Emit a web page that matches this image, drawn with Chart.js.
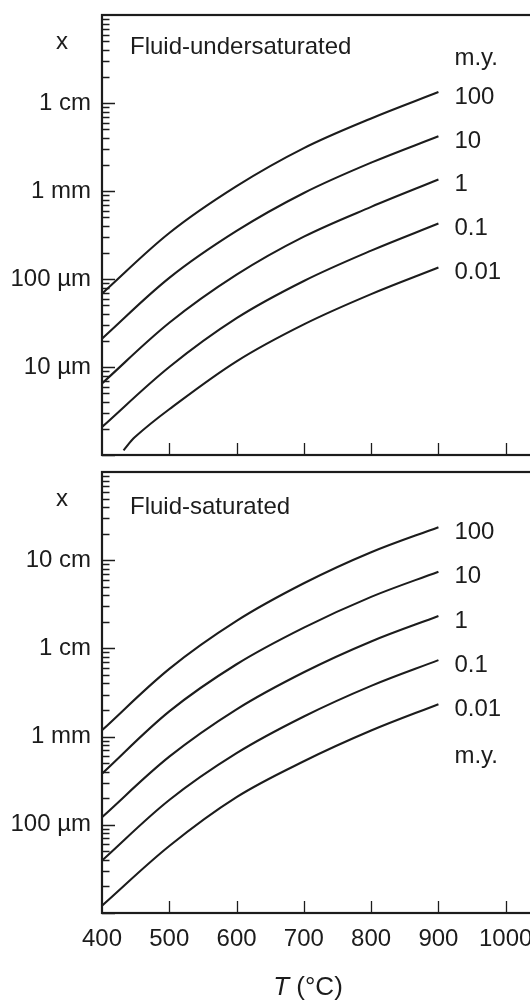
<!DOCTYPE html>
<html>
<head>
<meta charset="utf-8">
<script src="https://cdn.jsdelivr.net/npm/chart.js@4.4.0/dist/chart.umd.min.js"></script>
<style>
  html, body { margin: 0; padding: 0; background: #fff; }
  #wrap { width: 530px; height: 1000px; overflow: hidden; }
  canvas { display: block; }
</style>
</head>
<body>
<div id="wrap">
  <canvas id="under" width="620" height="462"></canvas>
  <canvas id="sat" width="620" height="538"></canvas>
</div>
<script>
// transport distance x (metres) against temperature, one curve per duration in m.y.
var temps = [400, 500, 600, 700, 800, 900];
var tempsLow = [432, 449, 500, 600, 700, 800, 900]; // 0.01 m.y. curve enters the upper panel late
var durations = ["100", "10", "1", "0.1", "0.01"];

// fluid-undersaturated
var under100 = [6.82e-5, 3.33e-4, 1.135e-3, 3.07e-3, 6.67e-3, 1.33e-2];
var under10 = [2.1e-5, 1.03e-4, 3.52e-4, 9.5e-4, 2.1e-3, 4.19e-3];
var under1 = [6.5e-6, 3.18e-5, 1.12e-4, 3.03e-4, 6.6e-4, 1.35e-3];
var under01 = [2.08e-6, 1.0e-5, 3.59e-5, 9.5e-5, 2.1e-4, 4.27e-4];
var under001 = [1.13e-6, 1.6e-6, 3.31e-6, 1.16e-5, 3.05e-5, 6.73e-5, 1.35e-4];

// fluid-saturated
var sat100 = [1.18e-3, 5.86e-3, 2.05e-2, 5.47e-2, 0.123, 0.237];
var sat10 = [3.8e-4, 1.93e-3, 6.61e-3, 1.72e-2, 3.84e-2, 7.41e-2];
var sat1 = [1.22e-4, 5.92e-4, 2.04e-3, 5.37e-3, 1.2e-2, 2.33e-2];
var sat01 = [3.93e-5, 1.91e-4, 6.49e-4, 1.69e-3, 3.76e-3, 7.36e-3];
var sat001 = [1.21e-5, 5.75e-5, 2.06e-4, 5.25e-4, 1.17e-3, 2.33e-3];

// labelled decades on the x axis
var underTicks = [1e-5, 1e-4, 1e-3, 1e-2];
var underTickLabels = ["10 \u00b5m", "100 \u00b5m", "1 mm", "1 cm"];
var satTicks = [1e-4, 1e-3, 1e-2, 1e-1];
var satTickLabels = ["100 \u00b5m", "1 mm", "1 cm", "10 cm"];

var FONT = "'Liberation Sans', Arial, Helvetica, sans-serif";
var INK = "#1c1c1c";
var FS = 24;

function points(xs, ys) {
  return xs.map(function (t, i) { return { x: t, y: ys[i] }; });
}

// frame, inward ticks and all the in-panel text
var panelDecor = {
  id: "panelDecor",
  afterDatasetsDraw: function (chart, args, o) {
    var ctx = chart.ctx, a = chart.chartArea;
    var xs = chart.scales.x, ys = chart.scales.y;
    ctx.save();
    ctx.strokeStyle = INK;
    ctx.lineWidth = 2.2;
    ctx.strokeRect(a.left, a.top, a.right - a.left, a.bottom - a.top);

    ctx.lineWidth = 1.3;
    ctx.beginPath();
    var d0 = Math.round(Math.log10(ys.min)), d1 = Math.round(Math.log10(ys.max));
    for (var d = d0; d < d1; d++) {
      for (var m = 1; m <= 9; m++) {
        var v = m * Math.pow(10, d);
        var py = Math.round(ys.getPixelForValue(v)) + 0.5;
        ctx.moveTo(a.left, py);
        ctx.lineTo(a.left + (m === 1 ? 13 : 7.5), py);
      }
    }
    xs.ticks.forEach(function (t) {
      if (t.value <= xs.min || t.value >= xs.max) return;
      var px = Math.round(xs.getPixelForValue(t.value)) + 0.5;
      ctx.moveTo(px, a.bottom);
      ctx.lineTo(px, a.bottom - 12);
    });
    ctx.stroke();

    ctx.fillStyle = INK;
    ctx.font = FS + "px " + FONT;
    ctx.textAlign = "left";
    ctx.textBaseline = "middle";
    chart.data.datasets.forEach(function (ds, i) {
      var pts = chart.getDatasetMeta(i).data;
      var last = pts[pts.length - 1];
      ctx.fillText(ds.label, last.x + 16, last.y + 5);
    });
    var p100 = chart.getDatasetMeta(0).data;
    ctx.fillText("m.y.", p100[p100.length - 1].x + 16, a.top + o.myOffset);

    ctx.textBaseline = "alphabetic";
    ctx.fillText(o.title, a.left + 28, a.top + o.titleBase);
    ctx.textAlign = "center";
    ctx.fillText("x", 62, a.top + 34);

    if (o.axisTitle) {
      var cx = a.left + 206, by = a.bottom + 82;
      ctx.font = "italic 26px " + FONT;
      var wT = ctx.measureText("T").width;
      ctx.font = "26px " + FONT;
      var wR = ctx.measureText(" (\u00b0C)").width;
      var sx = cx - (wT + wR) / 2;
      ctx.textAlign = "left";
      ctx.font = "italic 26px " + FONT;
      ctx.fillText("T", sx, by);
      ctx.font = "26px " + FONT;
      ctx.fillText(" (\u00b0C)", sx + wT, by);
    }
    ctx.restore();
  }
};

function makePanel(id, series, tempSets, yMin, yMax, tickVals, tickLabels, cfg) {
  var datasets = series.map(function (vals, i) {
    return {
      label: durations[i],
      data: points(tempSets[i], vals),
      borderColor: INK,
      borderWidth: 2.1,
      pointRadius: 0,
      fill: false,
      tension: 0.35
    };
  });

  return new Chart(document.getElementById(id).getContext("2d"), {
    type: "line",
    data: { datasets: datasets },
    plugins: [panelDecor],
    options: {
      responsive: false,
      animation: false,
      events: [],
      layout: { padding: { top: cfg.padTop, right: 47, bottom: cfg.padBottom, left: 0 } },
      scales: {
        x: {
          type: "linear",
          min: 400,
          max: 1100,
          grid: { display: false, drawTicks: false },
          border: { display: false },
          ticks: {
            display: cfg.xLabels,
            stepSize: 100,
            padding: 12,
            color: INK,
            font: { family: FONT, size: FS },
            callback: function (v) { return String(v); }
          },
          afterFit: function (s) {
            s.height = cfg.xHeight;
            s.paddingLeft = 0;
            s.paddingRight = 0;
          }
        },
        y: {
          type: "logarithmic",
          min: yMin,
          max: yMax,
          grid: { display: false, drawTicks: false },
          border: { display: false },
          afterBuildTicks: function (s) {
            s.ticks = tickVals.map(function (v) { return { value: v }; });
          },
          afterFit: function (s) {
            s.width = 102;
            s.paddingTop = 0;
            s.paddingBottom = 0;
          },
          ticks: {
            padding: 11,
            color: INK,
            font: { family: FONT, size: FS },
            callback: function (v) {
              var k = tickVals.findIndex(function (t) { return Math.abs(t - v) / t < 1e-6; });
              return k < 0 ? "" : tickLabels[k];
            }
          }
        }
      },
      plugins: {
        legend: { display: false },
        tooltip: { enabled: false },
        panelDecor: {
          title: cfg.title,
          titleBase: cfg.titleBase,
          myOffset: cfg.myOffset,
          axisTitle: cfg.xLabels
        }
      }
    }
  });
}

makePanel("under",
  [under100, under10, under1, under01, under001],
  [temps, temps, temps, temps, tempsLow],
  1e-6, 1e-1, underTicks, underTickLabels,
  { padTop: 15, padBottom: 7, xHeight: 0, xLabels: false,
    title: "Fluid-undersaturated", titleBase: 39, myOffset: 43 });

makePanel("sat",
  [sat100, sat10, sat1, sat01, sat001],
  [temps, temps, temps, temps, temps],
  1e-5, 1, satTicks, satTickLabels,
  { padTop: 10, padBottom: 0, xHeight: 87, xLabels: true,
    title: "Fluid-saturated", titleBase: 42, myOffset: 284 });
</script>
</body>
</html>
